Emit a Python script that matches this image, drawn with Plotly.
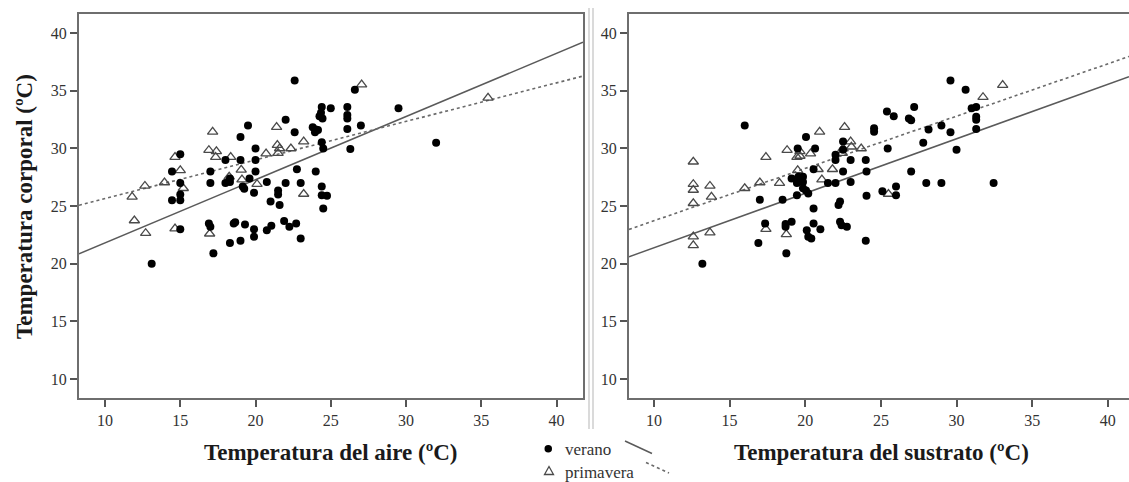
import plotly.graph_objects as go

# ---------------- data ----------------
# Left panel: body temperature vs air temperature
aire_verano_x = [22.6, 26.6, 24.4, 24.35, 24.25, 24.45, 25.0, 26.1, 26.1, 26.1, 26.1, 27.0, 29.5, 22.0,
                 19.5, 22.6, 23.8, 24.0, 23.95, 24.15, 24.4, 24.5, 26.3, 32.0, 19.0, 15.0, 20.0, 18.0,
                 19.0, 20.0, 14.45, 17.0, 20.0, 22.75, 24.0, 19.6, 15.0, 17.0, 18.0, 18.3, 20.75, 22.0,
                 23.0, 19.15, 19.25, 19.9, 21.5, 21.5, 24.4, 24.4, 24.75, 15.0, 14.45, 15.0, 21.0, 21.6,
                 24.5, 16.9, 17.0, 18.55, 18.65, 19.3, 21.9, 22.25, 22.7, 21.05, 20.75, 15.0, 19.9, 19.9,
                 23.0, 18.3, 19.0, 17.2, 13.1, 18.3]
aire_verano_y = [35.9, 35.1, 33.6, 33.1, 32.8, 32.6, 33.5, 33.6, 32.9, 32.6, 31.7, 32.0, 33.5, 32.5,
                 32.0, 31.4, 31.85, 31.65, 31.4, 31.6, 30.55, 30.0, 29.95, 30.5, 31.0, 29.5, 30.0, 29.0,
                 29.0, 29.0, 28.0, 28.0, 28.0, 28.2, 28.0, 27.4, 27.0, 27.0, 27.0, 27.1, 27.1, 27.0,
                 27.0, 26.7, 26.5, 26.15, 26.35, 26.0, 26.7, 25.95, 25.9, 26.0, 25.5, 25.5, 25.4, 25.1,
                 24.8, 23.5, 23.2, 23.5, 23.6, 23.4, 23.7, 23.2, 23.5, 23.3, 22.9, 23.0, 23.0, 22.35,
                 22.2, 21.8, 22.0, 20.9, 20.0, 27.4]
aire_primavera_x = [27.05, 35.45, 17.15, 21.4, 23.2, 21.45, 21.6, 21.5, 22.35, 20.7, 16.9, 17.4, 17.35,
                    18.35, 14.65, 15.0, 19.05, 18.25, 19.1, 20.1, 13.95, 12.65, 15.2, 11.8, 23.2, 11.95,
                    12.7, 14.65, 16.95]
aire_primavera_y = [35.55, 34.4, 31.45, 31.85, 30.6, 30.3, 30.0, 29.6, 30.0, 29.55, 29.85, 29.75, 29.25,
                    29.25, 29.25, 28.1, 28.15, 27.55, 27.3, 26.9, 27.05, 26.75, 26.55, 25.8, 26.05, 23.75,
                    22.65, 23.05, 22.6]

# Right panel: body temperature vs substrate temperature
sustrato_verano_x = [29.6, 30.6, 27.2, 25.4, 25.85, 26.85, 27.0, 31.0, 31.3, 31.3, 31.3, 31.3, 29.0, 28.15,
                     29.6, 24.55, 24.55, 27.8, 30.0, 25.45, 22.5, 22.5, 20.05, 16.0, 19.5, 20.65, 22.0,
                     22.0, 23.0, 24.0, 24.05, 22.5, 27.0, 20.55, 23.0, 21.5, 22.0, 19.1, 19.55, 19.85,
                     19.85, 19.45, 19.85, 20.05, 20.2, 19.45, 24.05, 25.1, 26.0, 26.0, 28.0, 29.0, 32.45,
                     17.0, 18.5, 20.55, 22.3, 22.2, 20.55, 22.3, 22.4, 22.75, 20.1, 21.0, 19.1, 18.7,
                     18.7, 17.35, 20.2, 20.4, 24.0, 16.9, 18.75, 13.2]
sustrato_verano_y = [35.9, 35.1, 33.6, 33.2, 32.8, 32.6, 32.45, 33.5, 33.6, 32.75, 32.5, 31.7, 32.0, 31.65,
                     31.4, 31.75, 31.45, 30.5, 29.9, 30.0, 30.6, 29.9, 31.0, 32.0, 30.0, 30.0, 29.45,
                     29.0, 29.0, 29.0, 28.0, 28.0, 28.0, 28.2, 27.1, 27.0, 27.0, 27.4, 27.55, 27.55,
                     27.1, 27.0, 26.55, 26.35, 26.1, 25.95, 25.9, 26.3, 26.7, 25.95, 27.0, 27.0, 27.0,
                     25.55, 25.55, 24.8, 25.4, 25.1, 23.5, 23.65, 23.35, 23.2, 22.9, 23.0, 23.65, 23.45,
                     23.2, 23.5, 22.35, 22.2, 22.0, 21.8, 20.9, 20.0]
sustrato_primavera_x = [33.05, 31.75, 22.6, 20.95, 23.0, 23.05, 22.5, 23.7, 22.45, 19.65, 19.65, 19.45,
                        18.8, 20.35, 17.4, 19.5, 19.55, 20.85, 21.8, 21.1, 18.3, 17.0, 16.0, 25.5, 12.6,
                        12.6, 12.6, 13.7, 13.8, 12.6, 12.6, 12.6, 13.7, 17.4, 18.75]
sustrato_primavera_y = [35.5, 34.45, 31.85, 31.45, 30.6, 30.15, 30.0, 30.0, 29.6, 29.75, 29.35, 29.25,
                        29.85, 29.55, 29.25, 28.1, 27.5, 28.2, 28.2, 27.3, 27.0, 27.05, 26.55, 26.05, 28.85,
                        26.9, 26.4, 26.75, 25.8, 25.25, 22.35, 21.6, 22.7, 23.0, 22.55]

# Fitted regression lines (intercept, slope)
aire_fit_verano = (16.33, 0.548)
aire_fit_primavera = (22.31, 0.3346)
sustrato_fit_verano = (16.66, 0.4727)
sustrato_fit_primavera = (19.19, 0.4539)

tick_vals = [10, 15, 20, 25, 30, 35, 40]
x_title_left = "Temperatura del aire (ºC)"
x_title_right = "Temperatura del sustrato (ºC)"
y_title = "Temperatura corporal (ºC)"
legend_labels = ["verano", "primavera"]

# ---------------- layout geometry ----------------
W, H = 1129, 482
FONT = "Liberation Serif"
x_range_left = [8.27, 41.76]
x_range_right = [8.35, 41.4]
y_range = [8.35, 41.67]


def fx(px):
    return px / W


def fy(py):
    return 1 - py / H


fig = go.Figure()

circle_marker = dict(symbol="circle", size=8, color="black", line=dict(width=0))
tri_marker = dict(symbol="triangle-up-open", size=9, color="#4a4a4a", line=dict(width=1.3, color="#4a4a4a"))


def add_panel(vx, vy, px_, py_, fit_v, fit_p, xr, xa, ya):
    xs = [xr[0], xr[1]]
    fig.add_trace(go.Scatter(x=xs, y=[fit_v[0] + fit_v[1] * v for v in xs], mode="lines",
                             line=dict(color="#5a5a5a", width=1.5), xaxis=xa, yaxis=ya,
                             showlegend=False, hoverinfo="skip"))
    fig.add_trace(go.Scatter(x=xs, y=[fit_p[0] + fit_p[1] * v for v in xs], mode="lines",
                             line=dict(color="#6a6a6a", width=1.6, dash="dot"), xaxis=xa, yaxis=ya,
                             showlegend=False, hoverinfo="skip"))
    fig.add_trace(go.Scatter(x=px_, y=py_, mode="markers", marker=tri_marker, xaxis=xa, yaxis=ya,
                             name=legend_labels[1], showlegend=False))
    fig.add_trace(go.Scatter(x=vx, y=vy, mode="markers", marker=circle_marker, xaxis=xa, yaxis=ya,
                             name=legend_labels[0], showlegend=False))


add_panel(aire_verano_x, aire_verano_y, aire_primavera_x, aire_primavera_y,
          aire_fit_verano, aire_fit_primavera, x_range_left, "x", "y")
add_panel(sustrato_verano_x, sustrato_verano_y, sustrato_primavera_x, sustrato_primavera_y,
          sustrato_fit_verano, sustrato_fit_primavera, x_range_right, "x2", "y2")

axis_style = dict(showline=True, mirror=True, linecolor="#6e6e6e", linewidth=2,
                  ticks="outside", ticklen=7, tickwidth=1.5, tickcolor="#555555",
                  showgrid=False, zeroline=False, tickvals=tick_vals,
                  tickfont=dict(family=FONT, size=16, color="#333333"), automargin=False)

y_dom = [fy(398), fy(14)]
fig.update_layout(
    width=W, height=H,
    margin=dict(l=0, r=0, t=0, b=0),
    paper_bgcolor="white", plot_bgcolor="white",
    showlegend=False,
    xaxis=dict(domain=[fx(79), fx(583)], range=x_range_left, anchor="y", **axis_style),
    yaxis=dict(domain=y_dom, range=y_range, anchor="x", **axis_style),
    xaxis2=dict(domain=[fx(629), 1.0], range=x_range_right, anchor="y2", **axis_style),
    yaxis2=dict(domain=y_dom, range=y_range, anchor="x2", **axis_style),
)

TITLE_SIZE = 23
annotations = [
    dict(text="<b>%s</b>" % x_title_left, x=fx(331), y=fy(452), xref="paper", yref="paper",
         showarrow=False, font=dict(family=FONT, size=TITLE_SIZE, color="#1a1a1a"), xanchor="center", yanchor="middle"),
    dict(text="<b>%s</b>" % x_title_right, x=fx(881), y=fy(452), xref="paper", yref="paper",
         showarrow=False, font=dict(family=FONT, size=TITLE_SIZE, color="#1a1a1a"), xanchor="center", yanchor="middle"),
    dict(text="<b>%s</b>" % y_title, x=fx(24), y=fy(207), xref="paper", yref="paper", textangle=-90,
         showarrow=False, font=dict(family=FONT, size=TITLE_SIZE, color="#1a1a1a"), xanchor="center", yanchor="middle"),
    dict(text=legend_labels[0], x=fx(563), y=fy(449), xref="paper", yref="paper", showarrow=False,
         font=dict(family=FONT, size=17, color="#333333"), xanchor="left", yanchor="middle"),
    dict(text=legend_labels[1], x=fx(563), y=fy(472), xref="paper", yref="paper", showarrow=False,
         font=dict(family=FONT, size=17, color="#333333"), xanchor="left", yanchor="middle"),
]
fig.update_layout(annotations=annotations)

# divider between panels and legend symbols
shapes = [
    dict(type="line", xref="paper", yref="paper", x0=fx(589), x1=fx(589), y0=fy(8), y1=fy(429),
         line=dict(color="#b5b5b5", width=1)),
    dict(type="line", xref="paper", yref="paper", x0=fx(593), x1=fx(593), y0=fy(8), y1=fy(429),
         line=dict(color="#b5b5b5", width=1)),
    dict(type="circle", xref="paper", yref="paper", x0=fx(544.5), x1=fx(552), y0=fy(452.5), y1=fy(445),
         fillcolor="black", line=dict(width=0)),
    dict(type="path", xref="paper", yref="paper",
         path="M %f,%f L %f,%f L %f,%f Z" % (fx(544.5), fy(474.5), fx(553.5), fy(474.5), fx(549), fy(466.5)),
         line=dict(color="#4a4a4a", width=1.3)),
    dict(type="line", xref="paper", yref="paper", x0=fx(625), x1=fx(652), y0=fy(441), y1=fy(453.5),
         line=dict(color="#5a5a5a", width=1.5)),
    dict(type="line", xref="paper", yref="paper", x0=fx(646), x1=fx(669), y0=fy(462.5), y1=fy(473),
         line=dict(color="#6a6a6a", width=1.6, dash="dot")),
]
fig.update_layout(shapes=shapes)

fig.write_html("out.html",
               config={"displayModeBar": False},
               post_script="document.body.style.margin='0';document.body.style.padding='0';"
                           "document.body.style.overflow='hidden';")
